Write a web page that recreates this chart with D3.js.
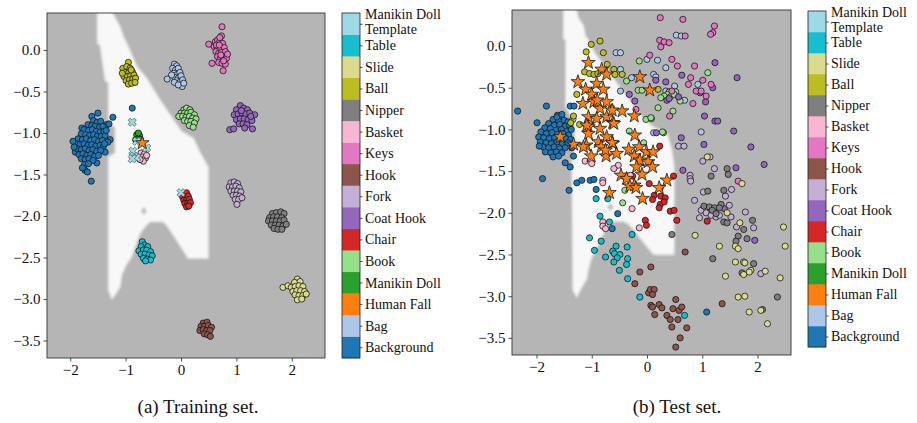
<!DOCTYPE html>
<html>
<head>
<meta charset="utf-8">
<script src="https://cdn.jsdelivr.net/npm/d3@7"></script>
<style>
  body { margin: 0; background: #ffffff; }
  text { font-family: "Liberation Serif", "DejaVu Serif", serif; fill: #111; }
</style>
</head>
<body>
<svg id="fig" width="917" height="423"></svg>
<script>
// ---- Classes (colour bar order, bottom to top) ----
const categories = ["Background", "Bag", "Human Fall", "Manikin Doll", "Book", "Chair", "Coat Hook",
  "Fork", "Hook", "Keys", "Basket", "Nipper", "Ball", "Slide", "Table", "Manikin Doll Template"];
const categoryColors = ["#1f77b4", "#aec7e8", "#ff7f0e", "#2ca02c", "#98df8a", "#d62728", "#9467bd",
  "#c5b0d5", "#8c564b", "#e377c2", "#f7b6d2", "#7f7f7f", "#bcbd22", "#dbdb8d", "#17becf", "#9edae5"];

const xTicks = [-2, -1, 0, 1, 2];
const yTicks = [0, -0.5, -1, -1.5, -2, -2.5, -3, -3.5];
const captions = ["(a) Training set.", "(b) Test set."];

// ---- Decision region where the classifier predicts "Human Fall" ----
const fallRegionTrain = [[-1.51,0.5],[-1.28,0.5],[-1.10,0.28],[-1.04,0.16],[-0.95,0.04],[-0.80,-0.20],
  [-0.62,-0.34],[-0.38,-0.60],[-0.14,-0.84],[0.01,-0.98],[0.22,-1.06],[0.34,-1.23],[0.49,-1.41],
  [0.49,-2.51],[0.13,-2.51],[-0.08,-2.29],[-0.26,-2.11],[-0.32,-2.07],[-0.56,-2.07],[-0.65,-2.13],
  [-0.74,-2.21],[-0.81,-2.33],[-0.89,-2.49],[-0.99,-2.59],[-1.07,-2.71],[-1.10,-2.85],[-1.19,-2.95],
  [-1.25,-3.00],[-1.31,-2.89],[-1.31,-1.29],[-1.19,-1.24],[-1.19,-0.93],[-1.31,-0.88],[-1.31,-0.40],
  [-1.37,-0.36],[-1.46,0.06],[-1.51,0.08]];
const islandTrain = [[-0.67,-1.89],[-0.615,-1.94],[-0.67,-1.99],[-0.725,-1.94]];

const fallRegionTest = [[-1.51,0.5],[-1.30,0.5],[-1.24,0.33],[-1.15,0.25],[-1.12,0.13],[-1.06,0.07],
  [-0.94,-0.09],[-0.78,-0.23],[-0.63,-0.37],[-0.45,-0.53],[-0.27,-0.69],[-0.15,-0.81],[-0.03,-0.89],
  [0.11,-0.97],[0.24,-1.01],[0.36,-1.04],[0.45,-1.25],[0.49,-1.45],[0.49,-2.50],[0.12,-2.50],
  [-0.03,-2.38],[-0.32,-2.14],[-0.43,-2.10],[-0.61,-2.10],[-0.73,-2.17],[-0.82,-2.29],[-0.91,-2.43],
  [-1.00,-2.53],[-1.06,-2.67],[-1.09,-2.79],[-1.18,-2.89],[-1.27,-3.01],[-1.34,-2.93],[-1.36,-1.37],
  [-1.33,-1.29],[-1.30,-1.09],[-1.33,-0.89],[-1.47,-0.73],[-1.47,0.07],[-1.51,0.09]];
const islandTest = [[-0.66,-1.88],[-0.60,-1.93],[-0.66,-1.98],[-0.72,-1.93]];

// ---- Training set embeddings ----
const trainBackground = [[-1.50,-0.76],[-1.61,-0.80],[-1.23,-0.81],[-0.88,-0.70],[-1.79,-0.94],[-1.91,-1.23],
  [-1.73,-1.45],[-1.69,-1.47],[-1.62,-1.58],[-1.28,-1.08],[-1.34,-0.90],[-1.37,-1.23],[-1.52,-1.36],
  [-1.32,-1.11],[-1.30,-0.89],[-1.58,-0.85],[-1.51,-0.87],[-1.45,-0.86],[-1.68,-0.90],[-1.61,-0.91],
  [-1.55,-0.92],[-1.47,-0.93],[-1.41,-0.92],[-1.75,-0.96],[-1.67,-0.97],[-1.60,-0.96],[-1.53,-0.98],
  [-1.46,-0.99],[-1.39,-0.98],[-1.80,-1.01],[-1.72,-1.02],[-1.65,-1.03],[-1.58,-1.02],[-1.51,-1.04],
  [-1.44,-1.04],[-1.37,-1.03],[-1.86,-1.07],[-1.78,-1.08],[-1.71,-1.07],[-1.63,-1.09],[-1.56,-1.08],
  [-1.49,-1.10],[-1.42,-1.09],[-1.89,-1.13],[-1.82,-1.14],[-1.75,-1.13],[-1.68,-1.15],[-1.61,-1.14],
  [-1.54,-1.16],[-1.46,-1.15],[-1.40,-1.16],[-1.87,-1.19],[-1.80,-1.20],[-1.73,-1.19],[-1.66,-1.21],
  [-1.59,-1.20],[-1.52,-1.22],[-1.45,-1.21],[-1.84,-1.26],[-1.77,-1.25],[-1.70,-1.27],[-1.63,-1.26],
  [-1.56,-1.28],[-1.49,-1.27],[-1.80,-1.31],[-1.73,-1.32],[-1.66,-1.31],[-1.59,-1.33],[-1.74,-1.38],
  [-1.67,-1.37],[-1.78,-1.42],[-1.95,-1.10],[-1.93,-1.17],[-1.35,-0.97],[-1.38,-1.13]];
const trainBag = [[-0.25,-0.35],[-0.12,-0.17],[-0.08,-0.19],[-0.15,-0.22],[-0.10,-0.24],[-0.05,-0.22],
  [-0.13,-0.28],[-0.08,-0.30],[-0.02,-0.27],[-0.11,-0.33],[-0.05,-0.34],[0.00,-0.31],[-0.08,-0.37],
  [-0.02,-0.39],[0.03,-0.36],[-0.12,-0.39],[0.02,-0.44],[-0.05,-0.42],[0.05,-0.40],[-0.17,-0.30]];
const trainManikinDoll = [[-0.80,-1.02],[-0.75,-1.03],[-0.78,-1.07],[-0.73,-1.08],[-0.82,-1.08],[-0.77,-1.00]];
const trainBook = [[0.05,-0.72],[0.10,-0.70],[0.16,-0.72],[0.00,-0.76],[0.06,-0.76],[0.12,-0.76],
  [0.18,-0.75],[0.24,-0.78],[-0.04,-0.80],[0.03,-0.80],[0.09,-0.81],[0.15,-0.80],[0.21,-0.82],
  [0.27,-0.83],[0.06,-0.85],[0.12,-0.86],[0.18,-0.86],[0.24,-0.88],[0.15,-0.91],[0.22,-0.93]];
const trainChair = [[0.05,-1.73],[0.10,-1.72],[0.03,-1.77],[0.08,-1.77],[0.13,-1.76],[0.05,-1.81],
  [0.10,-1.81],[0.15,-1.80],[0.07,-1.85],[0.12,-1.85],[0.17,-1.84],[0.10,-1.89],[0.14,-1.88]];
const trainCoatHook = [[0.88,-0.96],[0.95,-0.95],[1.29,-0.95],[1.07,-0.67],[1.00,-0.72],[1.13,-0.70],
  [1.20,-0.72],[0.96,-0.78],[1.03,-0.77],[1.10,-0.76],[1.17,-0.77],[1.24,-0.76],[1.33,-0.78],
  [1.00,-0.84],[1.07,-0.83],[1.14,-0.83],[1.21,-0.84],[1.28,-0.85],[1.05,-0.89],[1.12,-0.89],
  [1.19,-0.90],[1.15,-0.94],[1.09,-0.73],[1.26,-0.80]];
const trainFork = [[0.90,-1.60],[0.96,-1.59],[1.02,-1.61],[0.87,-1.65],[0.93,-1.65],[0.99,-1.64],
  [1.05,-1.66],[0.90,-1.70],[0.96,-1.70],[1.02,-1.70],[1.08,-1.71],[0.94,-1.75],[1.00,-1.75],
  [1.06,-1.76],[0.98,-1.80],[1.04,-1.80],[1.10,-1.78],[1.01,-1.86]];
const trainHook = [[0.40,-3.29],[0.47,-3.28],[0.36,-3.33],[0.42,-3.33],[0.49,-3.32],[0.55,-3.34],
  [0.34,-3.38],[0.40,-3.37],[0.46,-3.38],[0.52,-3.38],[0.42,-3.42],[0.48,-3.43],[0.53,-3.45]];
const trainKeys = [[0.74,0.28],[0.73,0.17],[0.50,0.07],[0.56,-0.16],[0.76,-0.25],[0.62,0.10],[0.66,0.12],
  [0.70,0.10],[0.75,0.08],[0.60,0.04],[0.65,0.03],[0.70,0.02],[0.78,0.03],[0.63,-0.02],[0.68,-0.04],
  [0.73,-0.03],[0.80,-0.02],[0.66,-0.08],[0.71,-0.10],[0.76,-0.09],[0.82,-0.10],[0.68,-0.15],
  [0.74,-0.16],[0.80,-0.17],[0.70,0.15],[0.64,0.06],[0.72,-0.06],[0.77,-0.13],[0.69,0.06],[0.84,-0.05]];
const trainBasket = [[-0.72,-1.24],[-0.66,-1.25],[-0.70,-1.29],[-0.64,-1.30],[-0.68,-1.34],[-0.62,-1.27],[-0.74,-1.32]];
const trainNipper = [[1.65,-1.97],[1.72,-1.96],[1.80,-1.95],[1.86,-1.97],[1.60,-2.02],[1.67,-2.01],
  [1.74,-2.01],[1.82,-2.02],[1.58,-2.06],[1.65,-2.06],[1.72,-2.06],[1.79,-2.06],[1.86,-2.05],
  [1.63,-2.11],[1.70,-2.11],[1.77,-2.11],[1.84,-2.12],[1.68,-2.15],[1.75,-2.16],[1.82,-2.16],[1.90,-2.10]];
const trainBall = [[-0.95,-0.15],[-1.05,-0.22],[-0.98,-0.20],[-0.92,-0.22],[-1.00,-0.27],[-0.94,-0.27],
  [-0.88,-0.26],[-1.03,-0.32],[-0.97,-0.32],[-0.91,-0.31],[-0.85,-0.30],[-0.99,-0.37],[-0.93,-0.36],
  [-0.87,-0.35],[-0.82,-0.34],[-0.95,-0.41],[-0.89,-0.40],[-0.83,-0.39],[-1.06,-0.28],[-0.90,-0.24]];
const trainSlide = [[1.84,-2.86],[1.93,-2.84],[2.10,-2.76],[2.05,-2.80],[2.15,-2.79],[1.99,-2.86],
  [2.06,-2.85],[2.13,-2.84],[2.20,-2.85],[2.02,-2.91],[2.09,-2.90],[2.16,-2.90],[2.23,-2.91],
  [2.06,-2.95],[2.13,-2.96],[2.20,-2.96],[2.10,-3.01],[2.18,-3.00],[2.26,-2.94]];
const trainTable = [[-0.70,-2.31],[-0.66,-2.35],[-0.72,-2.37],[-0.60,-2.37],[-0.76,-2.42],[-0.68,-2.41],
  [-0.62,-2.41],[-0.55,-2.43],[-0.72,-2.46],[-0.65,-2.46],[-0.58,-2.47],[-0.52,-2.48],[-0.68,-2.51],
  [-0.61,-2.52],[-0.55,-2.53],[-0.64,-2.54]];
const trainTemplate = [[-0.88,-0.87],[-0.80,-1.10],[-0.62,-1.18],[-0.87,-1.22],[-0.85,-1.28],
  [-0.80,-1.30],[-0.88,-1.31],[0.00,-1.72]];
const trainHumanFall = [[-0.70,-1.12]];

// ---- Test set embeddings ----
const testBackground = [[-1.62,-0.83],[-1.55,-0.85],[-1.70,-0.88],[-1.60,-0.90],[-1.50,-0.89],[-1.43,-0.91],
  [-1.78,-0.93],[-1.68,-0.95],[-1.58,-0.94],[-1.48,-0.96],[-1.40,-0.95],[-1.85,-0.98],[-1.75,-0.99],
  [-1.65,-1.01],[-1.55,-1.00],[-1.45,-1.02],[-1.37,-1.00],[-1.92,-1.03],[-1.82,-1.05],[-1.72,-1.04],
  [-1.62,-1.06],[-1.52,-1.05],[-1.42,-1.07],[-1.96,-1.09],[-1.87,-1.10],[-1.77,-1.11],[-1.67,-1.10],
  [-1.57,-1.12],[-1.47,-1.11],[-1.38,-1.12],[-1.93,-1.15],[-1.83,-1.16],[-1.73,-1.17],[-1.63,-1.15],
  [-1.53,-1.17],[-1.43,-1.16],[-1.88,-1.21],[-1.78,-1.22],[-1.68,-1.21],[-1.58,-1.23],[-1.48,-1.22],
  [-1.84,-1.27],[-1.74,-1.28],[-1.64,-1.27],[-1.54,-1.28],[-1.70,-1.33],[-1.60,-1.32],[-1.95,-1.20],
  [-1.36,-1.22],[-2.34,-0.78],[-1.82,-0.72],[-1.99,-0.92],[-1.89,-1.59],[-1.48,-1.40],[-1.39,-1.45],
  [-1.33,-1.32],[-1.39,-0.72],[-1.32,-0.72],[-1.63,-0.85],[-1.54,-0.82],[-1.41,-1.73],[-1.27,-1.64],
  [-1.18,-1.61],[-1.03,-1.61],[-0.96,-1.60],[-0.92,-1.72],[-0.53,-2.01],[-0.63,-2.19],[1.08,-3.19]];
const testBag = [[0.53,0.13],[0.62,0.12],[0.19,-0.17],[0.34,-0.26],[0.12,-0.34],[0.16,-0.37],[0.50,-0.48],
  [0.92,-0.46],[0.68,-0.65],[0.12,-1.04],[0.98,-1.03],[-0.56,-0.08],[-0.48,-0.08],[0.00,-0.16],
  [-0.48,-0.54],[-0.48,-0.28],[-0.28,-0.38],[0.34,-0.54]];
const testBook = [[1.10,-0.32],[0.40,-0.55],[0.37,-0.58],[0.31,-0.60],[0.25,-0.62],[0.52,-0.55],
  [0.60,-0.66],[0.20,-0.74],[0.47,-0.78],[0.08,-0.87],[0.30,-1.04],[-0.14,-0.18],[-0.37,-0.42],
  [-0.16,-0.53],[-0.09,-0.53],[-0.02,-0.88],[0.07,-0.86],[-0.32,-1.02],[-0.06,-1.16],[0.28,-1.03],
  [-0.40,-1.73],[-0.44,-1.88],[-1.34,-0.88],[0.42,-0.61],[0.49,-0.58]];
const testChair = [[0.23,-1.20],[0.48,-1.56],[-0.26,-1.56],[0.04,-1.65],[0.24,-1.70],[0.13,-1.79],
  [0.10,-1.84],[0.25,-1.80],[0.33,-1.82],[0.24,-1.90],[0.22,-1.94],[0.42,-1.98],[0.49,-1.97],
  [0.54,-2.09],[-0.03,-2.09],[-0.01,-2.15],[1.09,-2.10],[0.31,-1.87]];
const testCoatHook = [[1.23,-0.20],[1.63,-0.38],[0.16,-0.41],[0.63,-0.35],[0.34,-0.43],[1.19,-0.50],
  [0.96,-0.56],[0.36,-0.65],[0.40,-0.63],[0.57,-0.61],[1.06,-0.67],[1.04,-0.84],[1.23,-0.90],
  [1.28,-0.90],[1.57,-1.02],[0.17,-1.04],[0.62,-1.10],[1.03,-1.18],[1.88,-1.21],[1.61,-1.46],
  [2.12,-1.42],[0.65,-1.49],[-0.32,-0.58],[-0.22,-0.66],[1.40,-1.95],[1.95,-2.33]];
const testFork = [[0.57,-1.20],[0.67,-1.20],[1.14,-1.33],[1.01,-1.38],[1.22,-1.47],[0.78,-1.55],
  [0.78,-1.59],[0.79,-1.62],[0.86,-1.85],[1.02,-1.75],[1.42,-1.80],[0.98,-1.97],[1.07,-2.00],
  [1.16,-2.03],[1.25,-2.05],[1.31,-2.03],[0.95,-2.06],[1.49,-1.91],[1.52,-2.05],[1.78,-1.99],
  [1.62,-2.17],[1.93,-2.18],[2.06,-2.73],[1.53,-1.72]];
const testHook = [[0.69,-2.47],[0.07,-2.65],[-0.13,-2.71],[-0.22,-2.85],[0.03,-2.96],[0.06,-2.92],
  [0.07,-3.11],[0.10,-3.13],[0.13,-2.92],[0.52,-3.04],[0.22,-3.10],[0.27,-3.14],[0.47,-3.15],
  [0.58,-3.17],[0.63,-3.13],[0.14,-3.22],[0.36,-3.23],[0.42,-3.28],[0.56,-3.28],[0.45,-3.37],
  [0.72,-3.38],[0.60,-3.50],[0.52,-3.61],[1.36,-3.09],[0.10,-2.98]];
const testKeys = [[0.24,0.34],[0.65,0.32],[1.22,0.24],[1.19,0.16],[1.15,0.14],[0.69,0.12],[0.23,0.07],
  [0.31,0.05],[0.40,0.04],[0.25,-0.01],[0.45,-0.16],[0.55,-0.24],[0.86,-0.24],[0.79,-0.38],
  [1.01,-0.41],[0.75,-0.46],[0.45,-0.54],[0.89,-0.54],[0.98,-0.54],[1.07,-0.60],[0.83,-0.69],
  [0.41,-0.84],[1.65,-1.62],[0.05,-0.11],[-0.20,-0.76],[1.16,-0.46]];
const testBasket = [[-1.12,-1.38],[-1.00,-1.41],[-0.80,-1.61],[-0.30,-1.55],[-0.27,-1.95],[-0.80,-2.11],
  [-0.80,-2.16],[-0.75,-2.19],[-0.14,-2.18],[-0.80,-1.64],[-0.52,-1.43],[-0.60,-1.47],[-0.64,-0.74]];
const testNipper = [[1.45,-1.47],[1.16,-1.56],[1.47,-1.54],[1.10,-1.74],[1.39,-1.73],[1.03,-1.92],
  [1.13,-1.93],[1.22,-1.94],[1.34,-1.90],[1.31,-1.94],[1.18,-1.97],[1.25,-2.01],[1.39,-2.11],
  [1.45,-2.12],[1.75,-2.20],[1.91,-2.09],[1.65,-2.28],[1.81,-2.31],[1.61,-2.34],[1.19,-2.55],
  [1.93,-2.61],[1.72,-2.72],[2.36,-3.01],[2.09,-3.16],[0.45,-2.26]];
const testBall = [[-1.01,0.02],[-0.85,0.06],[-1.10,-0.07],[-0.79,-0.08],[-1.13,-0.31],[-1.04,-0.33],
  [-0.96,-0.34],[-0.89,-0.33],[-0.60,-0.28],[-0.45,-0.34],[-0.58,-0.34],[0.20,-0.52],[-1.27,-0.58],
  [-1.33,-0.84],[-1.22,-0.94],[-1.38,-0.92],[-0.72,-0.22]];
const testSlide = [[1.09,-1.33],[1.72,-1.65],[1.45,-2.00],[1.68,-2.12],[2.47,-2.17],[0.87,-2.27],
  [1.60,-2.40],[1.65,-2.43],[1.31,-2.40],[2.50,-2.40],[1.60,-2.59],[1.75,-2.59],[1.77,-2.60],
  [1.88,-2.69],[1.85,-2.71],[2.14,-2.70],[1.75,-2.74],[1.42,-2.76],[2.41,-2.78],[1.65,-3.01],
  [1.77,-3.00],[1.85,-3.19],[2.06,-3.17],[2.18,-3.33]];
const testTable = [[-0.92,-1.83],[-0.71,-1.83],[-0.85,-2.04],[-0.68,-2.11],[-0.27,-2.26],[-1.04,-2.30],
  [-0.83,-2.34],[-0.95,-2.45],[-0.56,-2.40],[-0.36,-2.41],[-0.62,-2.46],[-0.59,-2.49],[-0.49,-2.50],
  [-0.54,-2.54],[-0.35,-2.55],[-0.75,-2.53],[-0.60,-2.59],[-0.37,-2.62],[-0.50,-2.69],[-0.35,-2.79],
  [-0.13,-3.01],[0.68,-3.23]];
const testHumanFall = [[-1.06,-0.20],[-0.82,-0.28],[-0.73,-0.34],[-1.25,-0.43],[-0.91,-0.45],[-1.11,-0.52],
  [-0.79,-0.52],[-1.00,-0.58],[-1.16,-0.69],[-0.96,-0.67],[-0.85,-0.75],[-0.73,-0.67],[-1.06,-0.85],
  [-0.91,-0.87],[-0.73,-0.85],[-0.62,-0.92],[-0.45,-0.78],[-0.23,-0.84],[-0.13,-0.37],[0.05,-0.53],
  [-1.06,-0.97],[-0.85,-0.99],[-1.06,-1.05],[-1.57,-1.09],[-1.33,-1.18],[-1.10,-1.19],[-0.88,-1.15],
  [-0.73,-1.09],[-0.62,-1.17],[-0.83,-1.21],[-1.01,-1.32],[-0.74,-1.32],[-0.55,-1.29],[-0.33,-1.24],
  [-0.22,-1.07],[-0.14,-1.21],[-0.23,-1.32],[-0.01,-1.27],[0.11,-1.27],[-0.13,-1.37],[0.02,-1.39],
  [0.10,-1.45],[-0.19,-1.45],[-0.47,-1.55],[-0.37,-1.59],[-0.09,-1.54],[-0.23,-1.67],[0.36,-1.61],
  [0.22,-1.70],[-0.68,-1.76],[-0.08,-1.83],[-0.31,-1.68],[-0.20,-1.70],[-0.90,-0.65],[-0.63,-0.77],
  [-0.60,-0.93],[-1.09,-0.95],[-0.63,-1.16],[-1.15,-1.21],[-0.75,-1.25]];

// Scatter groups per panel: [class name, points, marker]
const trainGroups = [
  ["Background", trainBackground], ["Bag", trainBag], ["Manikin Doll", trainManikinDoll], ["Book", trainBook],
  ["Chair", trainChair], ["Coat Hook", trainCoatHook], ["Fork", trainFork], ["Hook", trainHook],
  ["Keys", trainKeys], ["Basket", trainBasket], ["Nipper", trainNipper], ["Ball", trainBall],
  ["Slide", trainSlide], ["Table", trainTable], ["Manikin Doll Template", trainTemplate, "x"],
  ["Human Fall", trainHumanFall, "star"]];
const testGroups = [
  ["Background", testBackground], ["Bag", testBag], ["Book", testBook], ["Chair", testChair],
  ["Coat Hook", testCoatHook], ["Fork", testFork], ["Hook", testHook], ["Keys", testKeys],
  ["Basket", testBasket], ["Nipper", testNipper], ["Ball", testBall], ["Slide", testSlide],
  ["Table", testTable], ["Human Fall", testHumanFall, "star"]];

// ---- Layout ----
const svg = d3.select("#fig");
const colorOf = d3.scaleOrdinal().domain(categories).range(categoryColors);
const GRAY = "#b5b5b5", LIGHT = "#f8f8f8";

const defs = svg.append("defs");
defs.append("filter").attr("id", "soft").attr("x", "-5%").attr("y", "-5%").attr("width", "110%").attr("height", "110%")
  .append("feGaussianBlur").attr("stdDeviation", 1.1);

const panels = [
  { id: "a", box: { left: 47, right: 325, top: 13, bottom: 358 }, xDom: [-2.419, 2.599], yDom: [-3.711, 0.446],
    region: fallRegionTrain, island: islandTrain, groups: trainGroups,
    cbar: { x: 342, w: 18, top: 13, bottom: 358 }, caption: captions[0], capX: 198 },
  { id: "b", box: { left: 512, right: 791, top: 10, bottom: 355 }, xDom: [-2.443, 2.606], yDom: [-3.705, 0.432],
    region: fallRegionTest, island: islandTest, groups: testGroups,
    cbar: { x: 808, w: 18, top: 11, bottom: 347 }, caption: captions[1], capX: 677 }
];

const starPath = d3.symbol().type(d3.symbolStar).size(58)();
const crossPath = d3.symbol().type(d3.symbolCross).size(42)();

panels.forEach(p => {
  const b = p.box;
  const x = d3.scaleLinear().domain(p.xDom).range([b.left, b.right]);
  const y = d3.scaleLinear().domain(p.yDom).range([b.bottom, b.top]);
  const g = svg.append("g");

  defs.append("clipPath").attr("id", "clip-" + p.id)
    .append("rect").attr("x", b.left).attr("y", b.top)
    .attr("width", b.right - b.left).attr("height", b.bottom - b.top);

  // decision regions
  const area = g.append("g").attr("clip-path", `url(#clip-${p.id})`);
  area.append("rect").attr("x", b.left).attr("y", b.top)
    .attr("width", b.right - b.left).attr("height", b.bottom - b.top).attr("fill", GRAY);
  const line = d3.line().x(d => x(d[0])).y(d => y(d[1])).curve(d3.curveLinearClosed);
  area.append("path").attr("d", line(p.region)).attr("fill", LIGHT)
    .attr("stroke", "#e4e4e4").attr("stroke-width", 1.5).attr("filter", "url(#soft)");
  area.append("path").attr("d", line(p.island)).attr("fill", "#c4c4c4").attr("filter", "url(#soft)");

  // scatter
  const pts = area.append("g");
  p.groups.forEach(([name, data, marker]) => {
    const col = colorOf(name);
    if (marker === "star" || marker === "x") return;
    pts.selectAll(null).data(data).join("circle")
      .attr("cx", d => x(d[0])).attr("cy", d => y(d[1])).attr("r", 3.1)
      .attr("fill", col).attr("stroke", "#111").attr("stroke-width", 0.75);
  });
  p.groups.forEach(([name, data, marker]) => {
    if (marker !== "x") return;
    pts.selectAll(null).data(data).join("path")
      .attr("d", crossPath)
      .attr("transform", d => `translate(${x(d[0])},${y(d[1])}) rotate(45)`)
      .attr("fill", colorOf(name)).attr("stroke", "#444").attr("stroke-width", 0.6);
  });
  p.groups.forEach(([name, data, marker]) => {
    if (marker !== "star") return;
    pts.selectAll(null).data(data).join("path")
      .attr("d", starPath)
      .attr("transform", d => `translate(${x(d[0])},${y(d[1])})`)
      .attr("fill", colorOf(name)).attr("stroke", "#111").attr("stroke-width", 0.75);
  });

  // axes
  const xAxis = g.append("g").attr("transform", `translate(0,${b.bottom})`)
    .call(d3.axisBottom(x).tickValues(xTicks).tickSize(3.5).tickPadding(3).tickFormat(d3.format("d")));
  const yAxis = g.append("g").attr("transform", `translate(${b.left},0)`)
    .call(d3.axisLeft(y).tickValues(yTicks).tickSize(3.5).tickPadding(3).tickFormat(d3.format(".1f")));
  [xAxis, yAxis].forEach(a => {
    a.select(".domain").remove();
    a.selectAll("line").attr("stroke", "#222").attr("stroke-width", 0.8);
    a.selectAll("text").attr("font-size", 15).attr("font-family", "Liberation Serif, serif").attr("fill", "#111");
  });
  g.append("rect").attr("x", b.left).attr("y", b.top)
    .attr("width", b.right - b.left).attr("height", b.bottom - b.top)
    .attr("fill", "none").attr("stroke", "#333").attr("stroke-width", 0.9);

  // colour bar
  const c = p.cbar;
  const cs = d3.scaleLinear().domain([0, categories.length]).range([c.bottom, c.top]);
  const cg = g.append("g");
  cg.selectAll("rect.seg").data(categories).join("rect").attr("class", "seg")
    .attr("x", c.x).attr("width", c.w)
    .attr("y", (d, i) => cs(i + 1)).attr("height", (d, i) => cs(i) - cs(i + 1) + 0.3)
    .attr("fill", d => colorOf(d));
  cg.append("rect").attr("x", c.x).attr("y", c.top).attr("width", c.w).attr("height", c.bottom - c.top)
    .attr("fill", "none").attr("stroke", "#222").attr("stroke-width", 0.8);
  const cAxis = cg.append("g").attr("transform", `translate(${c.x + c.w},0)`)
    .call(d3.axisRight(cs).tickValues(categories.map((d, i) => i + 0.5)).tickSize(2.5).tickPadding(2.5)
      .tickFormat(d => categories[Math.floor(d)]));
  cAxis.select(".domain").remove();
  cAxis.selectAll("line").attr("stroke", "#222").attr("stroke-width", 0.8);
  cAxis.selectAll("text").attr("font-size", 14).attr("font-family", "Liberation Serif, serif").attr("fill", "#111");
  // the long top label wraps onto two lines
  cAxis.selectAll("text").filter(d => categories[Math.floor(d)] === "Manikin Doll Template").each(function () {
    const t = d3.select(this);
    const xx = t.attr("x");
    t.text(null).attr("dy", null);
    t.append("tspan").attr("x", xx).attr("dy", "-0.36em").text("Manikin Doll");
    t.append("tspan").attr("x", xx).attr("dy", "1.04em").text("Template");
  });

  // caption
  svg.append("text").attr("x", p.capX).attr("y", 413).attr("text-anchor", "middle")
    .attr("font-size", 19).text(p.caption);
});
</script>
</body>
</html>
